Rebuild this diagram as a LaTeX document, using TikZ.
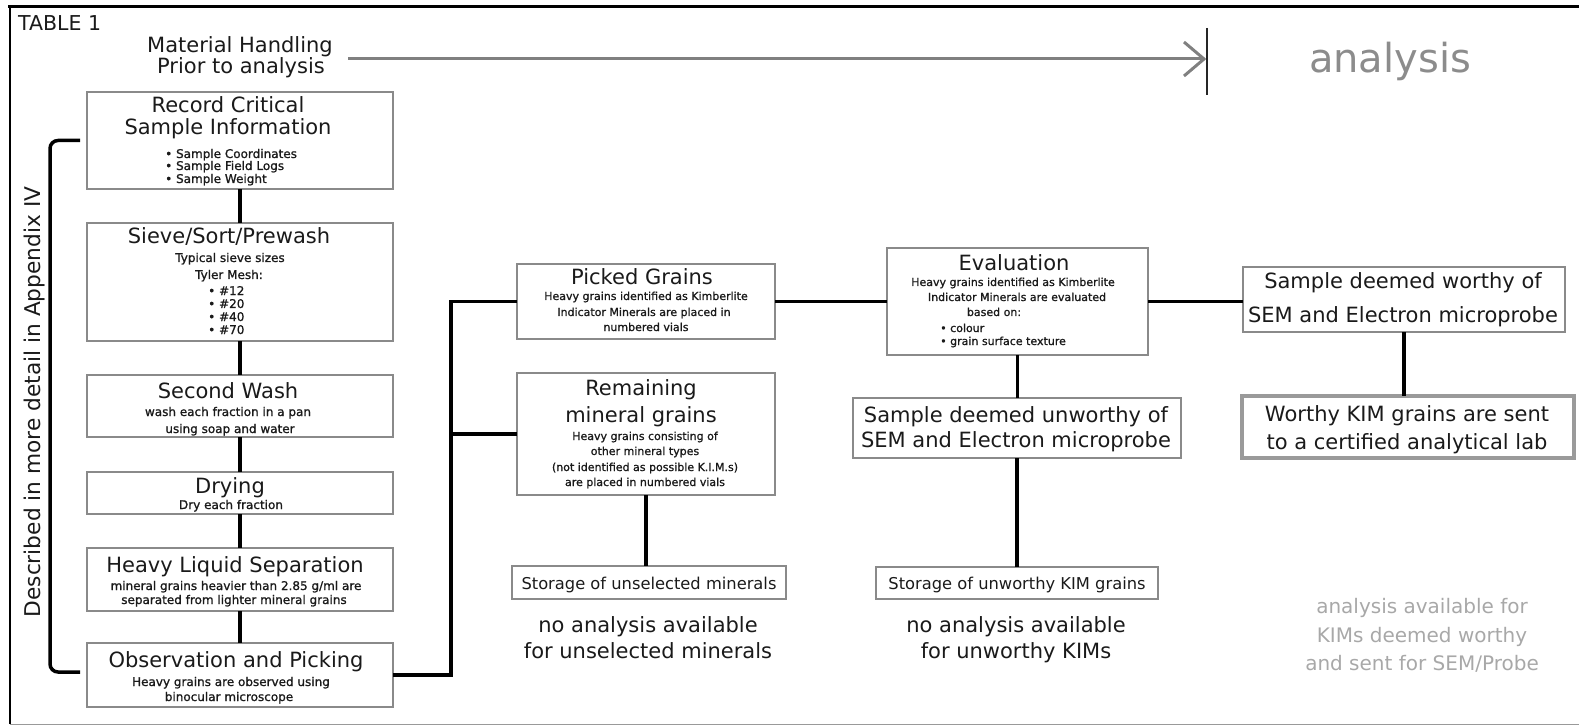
\documentclass[tikz,border=0pt]{standalone}
\usepackage{fontspec}
\setmainfont{DejaVu Sans}
\newfontfamily\smallbold[FakeBold=1.1]{DejaVu Sans}
\definecolor{bordergray}{HTML}{8A8A8A}
\definecolor{txt}{HTML}{1A1A1A}
\definecolor{arrowgray}{HTML}{808080}
\definecolor{lightgraytxt}{HTML}{A8A8A8}
\definecolor{midgraytxt}{HTML}{8C8C8C}
\definecolor{kimgray}{HTML}{9A9A9A}
\tikzset{
  box/.style={draw=bordergray, line width=1.1pt, inner sep=0pt, outer sep=0pt},
  kimbox/.style={draw=kimgray, line width=4pt, inner sep=0pt, outer sep=0pt},
  conn/.style={line width=3.2pt, black},
  ttl/.style={anchor=base, font=\fontsize{21}{24}\selectfont, text=txt, inner sep=0pt},
  sub/.style={anchor=base, font=\smallbold\fontsize{12}{14}\selectfont, text=txt, inner sep=0pt},
  subs/.style={anchor=base, font=\smallbold\fontsize{11}{13}\selectfont, text=txt, inner sep=0pt},
  lst/.style={anchor=base west, font=\smallbold\fontsize{12}{14}\selectfont, text=txt, inner sep=0pt},
  lsts/.style={anchor=base west, font=\smallbold\fontsize{11}{13}\selectfont, text=txt, inner sep=0pt},
  stor/.style={anchor=base, font=\fontsize{16.3}{19}\selectfont, text=txt, inner sep=0pt},
  note/.style={anchor=base, font=\fontsize{21}{24}\selectfont, text=txt, inner sep=0pt},
  graynote/.style={anchor=base, font=\fontsize{20}{24}\selectfont, text=lightgraytxt, inner sep=0pt},
}
\begin{document}
\begin{tikzpicture}[x=1pt,y=-1pt]
\useasboundingbox (0,0) rectangle (1579,727);
% frame
\draw[line width=2pt, black] (10,724) -- (10,7);
\draw[line width=3pt, black] (8,7) -- (1579,7);
\draw[line width=1.5pt, black!40] (10,724.5) -- (1579,724.5);

% header
\node[anchor=base west, font=\fontsize{20.5}{24}\selectfont, text=txt, inner sep=0pt] (tab) at (18,31) {TABLE 1};
\node[ttl] (mh1) at (240,53) {Material Handling};
\node[ttl] (mh2) at (241,74) {Prior to analysis};
\node[anchor=base, font=\fontsize{40}{44}\selectfont, text=midgraytxt, inner sep=0pt] (an) at (1390,73) {analysis};
\coordinate (aS) at (348,59);
\coordinate (aE) at (1204,59);
\coordinate (bar1) at (1207,28);
\coordinate (bar2) at (1207,95);
\draw[line width=3pt, arrowgray] (aS) -- (aE);
\draw[line width=3pt, arrowgray, line join=miter] ([xshift=-20pt,yshift=17pt]aE) -- (aE) -- ([xshift=-20pt,yshift=-17pt]aE);
\draw[line width=2pt, black!85] (bar1) -- (bar2);

% left column boxes
\node[box, minimum width=306pt, minimum height=97pt] (rec) at (240,140.5) {};
\node[box, minimum width=306pt, minimum height=118pt] (sieve) at (240,282) {};
\node[box, minimum width=306pt, minimum height=62pt] (wash) at (240,406) {};
\node[box, minimum width=306pt, minimum height=42pt] (dry) at (240,493) {};
\node[box, minimum width=306pt, minimum height=63pt] (hls) at (240,579.5) {};
\node[box, minimum width=306pt, minimum height=64pt] (obs) at (240,675) {};

% middle / right boxes
\node[box, minimum width=258pt, minimum height=75pt] (picked) at (646,301.5) {};
\node[box, minimum width=258pt, minimum height=122pt] (rem) at (646,434) {};
\node[box, minimum width=274pt, minimum height=33pt] (st1) at (649,582.5) {};
\node[box, minimum width=261pt, minimum height=107pt] (eval) at (1017.5,301.5) {};
\node[box, minimum width=328pt, minimum height=60pt] (unw) at (1017,428) {};
\node[box, minimum width=282pt, minimum height=32pt] (st2) at (1017,583) {};
\node[box, minimum width=322pt, minimum height=65pt] (worthy) at (1404,299.5) {};
\node[kimbox, minimum width=332pt, minimum height=62pt] (kim) at (1408,427) {};

% connectors
\draw[conn] (rec.south) -- (sieve.north);
\draw[conn] (sieve.south) -- (wash.north);
\draw[conn] (wash.south) -- (dry.north);
\draw[conn] (dry.south) -- (hls.north);
\draw[conn] (hls.south) -- (obs.north);
\coordinate (jn) at (451,675);
\draw[conn] (obs.east) -- (jn) |- (picked.west);
\draw[conn] (jn |- rem.west) -- (rem.west);
\draw[conn] (picked.east) -- (eval.west);
\draw[conn] (eval.east) -- (eval.east -| worthy.west);
\draw[conn] (eval.south) -- (eval.south |- unw.north);
\draw[conn] (unw.south) -- (unw.south |- st2.north);
\draw[conn] (rem.south) -- (rem.south |- st1.north);
\draw[conn] (worthy.south) -- (worthy.south |- kim.north);

% bracket and side label
\coordinate (bt) at ([xshift=-7pt]rec.west);
\coordinate (bb) at ([xshift=-7pt,yshift=3pt]obs.west);
\draw[line width=3.5pt, black, rounded corners=8pt] (bt) -- ++(-30,0) |- (bb);
\node[rotate=90, anchor=base, font=\fontsize{21.7}{24}\selectfont, text=txt, inner sep=0pt] (side) at (40,402) {Described in more detail in Appendix IV};

% texts: record
\node[ttl] (r1) at (228,113) {Record Critical};
\node[ttl] (r2) at (228,135) {Sample Information};
\node[lst] (r3) at (165,158) {• Sample Coordinates};
\node[lst] (r4) at (165,170) {• Sample Field Logs};
\node[lst] (r5) at (165,183) {• Sample Weight};
% sieve
\node[ttl] (s1) at (229,244) {Sieve/Sort/Prewash};
\node[sub] (s2) at (230,262) {Typical sieve sizes};
\node[sub] (s3) at (229,279) {Tyler Mesh:};
\node[lst] (s4) at (208,295) {• \#12};
\node[lst] (s5) at (208,308) {• \#20};
\node[lst] (s6) at (208,321) {• \#40};
\node[lst] (s7) at (208,334) {• \#70};
% wash
\node[ttl] (w1) at (228,398) {Second Wash};
\node[sub] (w2) at (228,416) {wash each fraction in a pan};
\node[sub] (w3) at (230,433) {using soap and water};
% dry
\node[ttl] (d1) at (230,493) {Drying};
\node[sub] (d2) at (231,509) {Dry each fraction};
% heavy liquid
\node[ttl] (h1) at (235,572) {Heavy Liquid Separation};
\node[sub] (h2) at (236,590) {mineral grains heavier than 2.85 g/ml are};
\node[sub] (h3) at (234,604) {separated from lighter mineral grains};
% observation
\node[ttl] (o1) at (236,667) {Observation and Picking};
\node[sub] (o2) at (231,686) {Heavy grains are observed using};
\node[sub] (o3) at (229,701) {binocular microscope};
% picked
\node[ttl] (p1) at (642,285) {Picked Grains};
\node[subs] (p2) at (646,300) {Heavy grains identified as Kimberlite};
\node[subs] (p3) at (644,316) {Indicator Minerals are placed in};
\node[subs] (p4) at (646,331) {numbered vials};
% remaining
\node[ttl] (m1) at (641,395) {Remaining};
\node[ttl] (m2) at (641,422) {mineral grains};
\node[subs] (m3) at (645,440) {Heavy grains consisting of};
\node[subs] (m4) at (645,455) {other mineral types};
\node[subs] (m5) at (645,471) {(not identified as possible K.I.M.s)};
\node[subs] (m6) at (645,486) {are placed in numbered vials};
% evaluation
\node[ttl] (e1) at (1014,271) {Evaluation};
\node[subs] (e2) at (1013,286) {Heavy grains identified as Kimberlite};
\node[subs] (e3) at (1017,301) {Indicator Minerals are evaluated};
\node[subs] (e4) at (994,316) {based on:};
\node[lsts] (e5) at (940,332) {• colour};
\node[lsts] (e6) at (940,345) {• grain surface texture};
% unworthy
\node[ttl] (u1) at (1016,422) {Sample deemed unworthy of};
\node[ttl] (u2) at (1016,447) {SEM and Electron microprobe};
% worthy
\node[ttl] (v1) at (1403,289) {Sample deemed worthy of};
\node[ttl] (v2) at (1403,322) {SEM and Electron microprobe};
% kim
\node[ttl] (k1) at (1407,421) {Worthy KIM grains are sent};
\node[ttl] (k2) at (1407,449) {to a certified analytical lab};
% storage
\node[stor] (q1) at (649,589) {Storage of unselected minerals};
\node[stor] (q2) at (1017,589) {Storage of unworthy KIM grains};
% notes
\node[note] (n1) at (648,632) {no analysis available};
\node[note] (n2) at (648,658) {for unselected minerals};
\node[note] (n3) at (1016,632) {no analysis available};
\node[note] (n4) at (1016,658) {for unworthy KIMs};
\node[graynote] (g1) at (1422,613) {analysis available for};
\node[graynote] (g2) at (1422,642) {KIMs deemed worthy};
\node[graynote] (g3) at (1422,670) {and sent for SEM/Probe};
\end{tikzpicture}
\end{document}
